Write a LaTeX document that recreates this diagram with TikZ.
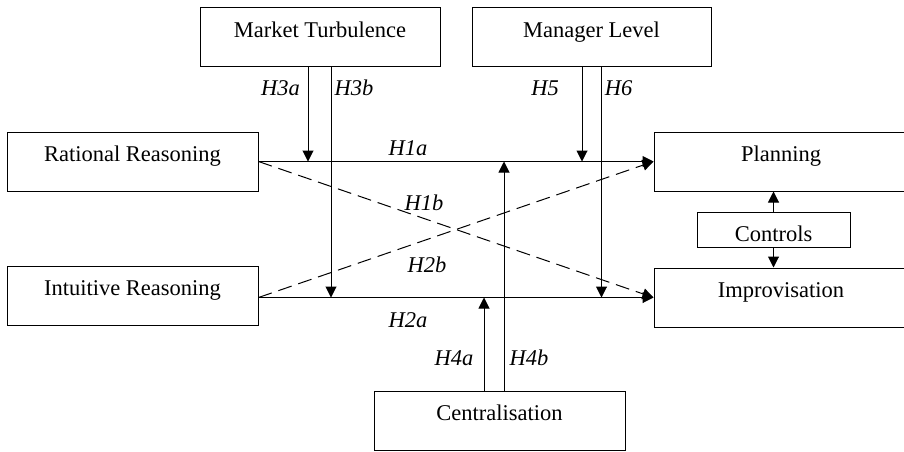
\documentclass[tikz,border=0pt]{standalone}
\usepackage{fontspec}
\setmainfont{Liberation Serif}
\usetikzlibrary{arrows.meta}
\begin{document}
\begin{tikzpicture}[x=1pt,y=-1pt,
  every node/.style={font=\fontsize{22.5}{27}\selectfont},
  box/.style={draw,line width=1pt,minimum height=59pt,inner sep=0pt,text height=8pt,text depth=8pt},
  lbl/.style={anchor=base,font=\fontsize{22.5}{27}\selectfont\itshape},
  conn/.style={line width=1pt,-{Triangle[length=11pt,width=11pt]}},
  dconn/.style={conn,dash pattern=on 14pt off 7pt}]
\clip (0,0) rectangle (904,451);
\node[box,minimum width=240pt] (mt) at (320,37) {Market Turbulence};
\node[box,minimum width=239pt] (ml) at (591.5,37) {Manager Level};
\node[box,minimum width=251pt] (rr) at (132.5,161.5) {Rational Reasoning};
\node[box,minimum width=251pt] (ir) at (132.5,295.5) {Intuitive Reasoning};
\node[box,minimum width=254pt] (pl) at (781,161.5) {Planning};
\node[box,minimum width=254pt] (im) at (781,297.5) {Improvisation};
\node[draw,line width=1pt,minimum width=153pt,minimum height=35pt,inner sep=0pt,text height=23pt,text depth=0pt] (co) at (773.5,229.5) {Controls};
\node[box,minimum width=251pt] (ce) at (499.5,420.5) {Centralisation};
% main paths
\draw[conn] (rr.east) -- (pl.west);
\draw[conn] (ir.east |- im.west) -- (im.west);
\draw[dconn] (rr.east) -- (im.west);
\draw[dconn] (ir.east |- im.west) -- (pl.west);
% moderator targets
\coordinate (h3a) at (308,161.5);
\coordinate (h3b) at (331,297.5);
\coordinate (h5) at (582,161.5);
\coordinate (h6) at (601.5,297.5);
\coordinate (h4a) at (484,297.5);
\coordinate (h4b) at (504,161.5);
\draw[conn] (mt.south -| h3a) -- (h3a);
\draw[conn] (mt.south -| h3b) -- (h3b);
\draw[conn] (ml.south -| h5) -- (h5);
\draw[conn] (ml.south -| h6) -- (h6);
\draw[conn] (ce.north -| h4a) -- (h4a);
\draw[conn] (ce.north -| h4b) -- (h4b);
\draw[conn] (co.north) -- (co.north |- pl.south);
\draw[conn] (co.south) -- (co.south |- im.north);
% labels
\node[lbl] (l3a) at (280.5,95) {H3a};
\node[lbl] (l3b) at (354,95) {H3b};
\node[lbl] (l5) at (545,95) {H5};
\node[lbl] (l6) at (618.5,95) {H6};
\node[lbl] (l1a) at (408,155) {H1a};
\node[lbl] (l1b) at (424,210) {H1b};
\node[lbl] (l2b) at (427,272) {H2b};
\node[lbl] (l2a) at (408,327) {H2a};
\node[lbl] (l4a) at (454,365) {H4a};
\node[lbl] (l4b) at (529,365) {H4b};
\end{tikzpicture}
\end{document}
